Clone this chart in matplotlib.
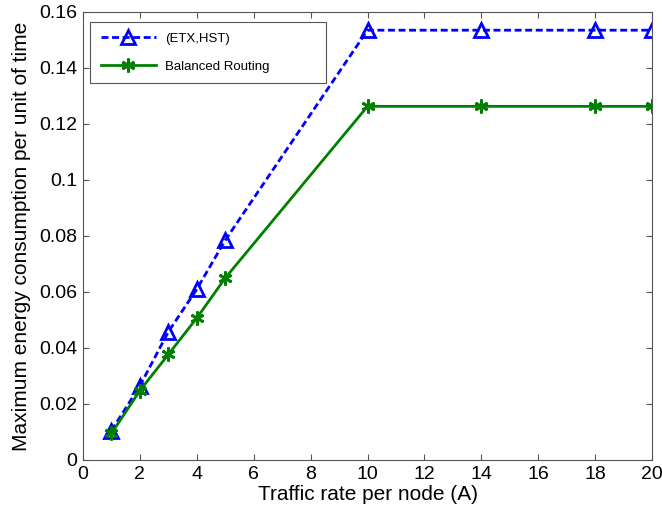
import matplotlib
matplotlib.use("Agg")
import matplotlib.pyplot as plt

plt.rcParams['font.family'] = ['Liberation Sans', 'DejaVu Sans']

traffic = [1, 2, 3, 4, 5, 10, 14, 18, 20]
etx_hst = [0.0105, 0.0265, 0.0458, 0.0610, 0.0785, 0.1535, 0.1535, 0.1535, 0.1535]
balanced = [0.0095, 0.0248, 0.0377, 0.0507, 0.0650, 0.1263, 0.1263, 0.1263, 0.1263]

fig = plt.figure(figsize=(6.62, 5.18), dpi=100)
ax = fig.add_axes([83/662, 58/518, 569/662, 448/518])

ax.plot(traffic, etx_hst, color='#0000ff', linestyle='--', dashes=(2.5, 1.3), linewidth=2,
        marker='^', markersize=10.5, markerfacecolor='none', markeredgewidth=2,
        label='(ETX,HST)')
ax.plot(traffic, balanced, color='#008000', linestyle='-', linewidth=2,
        marker=(6, 2, 0), markersize=10, markeredgewidth=2,
        label='Balanced Routing')

ax.set_xlim(0, 20)
ax.set_ylim(0, 0.16)
ax.set_xticks(range(0, 21, 2))
ax.set_yticks([0, 0.02, 0.04, 0.06, 0.08, 0.1, 0.12, 0.14, 0.16])
ax.set_yticklabels(['0', '0.02', '0.04', '0.06', '0.08', '0.1', '0.12', '0.14', '0.16'])
ax.tick_params(direction='in', top=True, right=True, labelsize=14, length=4,
               color='#555555', pad=4)
for s in ax.spines.values():
    s.set_color('#555555')

ax.set_xlabel('Traffic rate per node (A)', fontsize=15, labelpad=2)
ax.set_ylabel('Maximum energy consumption per unit of time', fontsize=15, labelpad=6)

leg = ax.legend(loc='upper left', bbox_to_anchor=(0.0123, 0.844, 0.415, 0.134),
                mode='expand', fontsize=9.5, fancybox=False, edgecolor='#555555',
                borderpad=0.8, labelspacing=1.2, handlelength=4.2,
                handletextpad=0.7, borderaxespad=0, framealpha=1)
leg.get_frame().set_linewidth(0.8)

fig.savefig('out.png', dpi=100)
